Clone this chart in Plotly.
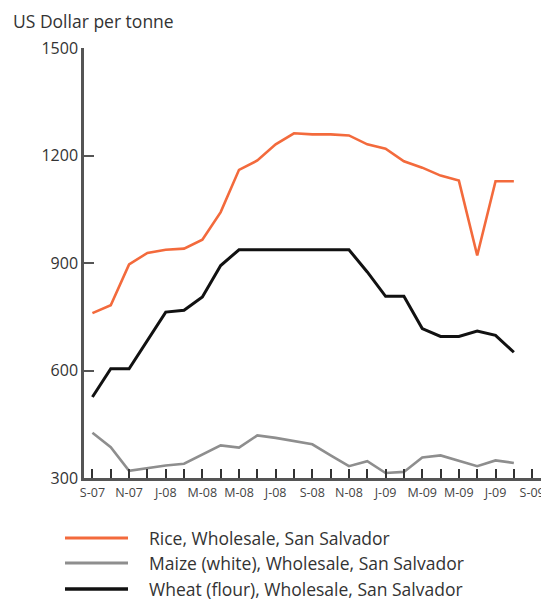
import plotly.graph_objects as go

months = ["Sep-07", "Oct-07", "Nov-07", "Dec-07", "Jan-08", "Feb-08", "Mar-08", "Apr-08",
          "May-08", "Jun-08", "Jul-08", "Aug-08", "Sep-08", "Oct-08", "Nov-08", "Dec-08",
          "Jan-09", "Feb-09", "Mar-09", "Apr-09", "May-09", "Jun-09", "Jul-09", "Aug-09",
          "Sep-09"]
tick_labels = ["S-07", "", "N-07", "", "J-08", "", "M-08", "", "M-08", "", "J-08", "", "S-08", "",
               "N-08", "", "J-09", "", "M-09", "", "M-09", "", "J-09", "", "S-09"]
y_ticks = [300, 600, 900, 1200, 1500]

rice = [760, 782, 896, 928, 937, 940, 965, 1042, 1160, 1186, 1231, 1262, 1259, 1259,
        1256, 1231, 1219, 1184, 1166, 1144, 1130, 921, 1128, 1128]
maize = [426, 386, 320, 328, 335, 340, 366, 391, 385, 419, 412, 403, 394, 363,
         333, 347, 314, 317, 357, 363, 349, 333, 349, 342]
wheat = [526, 605, 605, 684, 763, 768, 805, 893, 937, 937, 937, 937, 937, 937,
         937, 875, 807, 807, 717, 695, 695, 710, 698, 651]

series_names = ["Rice, Wholesale, San Salvador",
                "Maize (white), Wholesale, San Salvador",
                "Wheat (flour), Wholesale, San Salvador"]
series_colors = ["#f36a3c", "#8e8e8e", "#111111"]
series_widths = [2.6, 2.6, 3]
series_values = [rice, maize, wheat]

FONT = "Open Sans"
W, H = 541, 595
L, T, PW, PH = 76, 40, 461, 430


def px(fx):
    return (fx - L) / PW


def py(fy):
    return (T + PH - fy) / PH


fig = go.Figure()
for name, vals, col, w in zip(series_names, series_values, series_colors, series_widths):
    fig.add_trace(go.Scatter(x=months[:len(vals)], y=vals, mode="lines", name=name,
                             line=dict(color=col, width=w), showlegend=False))

fig.update_layout(
    width=W, height=H,
    margin=dict(l=L, r=W - L - PW, t=T, b=H - T - PH, autoexpand=False),
    paper_bgcolor="white", plot_bgcolor="white",
    font=dict(family=FONT, color="#333333"),
    xaxis=dict(type="category", categoryorder="array", categoryarray=months,
               range=[-0.46, 24.7], tickmode="array", tickvals=months, ticktext=tick_labels,
               ticks="inside", ticklen=9, tickwidth=1.5, tickcolor="#333333",
               showline=True, linecolor="#555555", linewidth=2.5, showgrid=False,
               zeroline=False, tickfont=dict(size=12.5, color="#444444"), tickangle=0,
               ticklabelstandoff=1),
    yaxis=dict(range=[300, 1500], tickvals=y_ticks, ticksuffix="\u00a0\u200a",
               ticks="inside", ticklen=10, tickwidth=2, tickcolor="#555555",
               showline=True, linecolor="#555555", linewidth=2.5, showgrid=False,
               zeroline=False, tickfont=dict(size=16, color="#333333")),
)

fig.add_annotation(text="US Dollar per tonne", xref="paper", yref="paper",
                   x=px(3), y=py(12.5), xanchor="left", yanchor="middle",
                   showarrow=False, font=dict(size=17.5, color="#333333", family=FONT))

# legend drawn manually (long line samples)
legend_y = [530, 555, 581]
for name, col, w, ly in zip(series_names, series_colors, series_widths, legend_y):
    fig.add_shape(type="line", xref="paper", yref="paper",
                  x0=px(57), x1=px(120), y0=py(ly), y1=py(ly),
                  line=dict(color=col, width=w + 0.4))
    fig.add_annotation(text=name, xref="paper", yref="paper",
                       x=px(139), y=py(ly), xanchor="left", yanchor="middle",
                       showarrow=False, font=dict(size=17.5, color="#333333", family=FONT))

fig.write_html("out.html")
